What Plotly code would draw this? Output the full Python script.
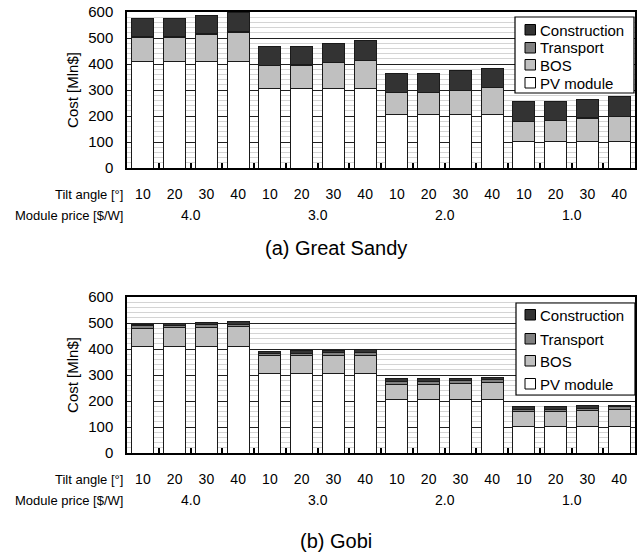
import plotly.graph_objects as go

# ---------------- data ----------------
tilt_angles = ["10", "20", "30", "40"]
module_prices = ["4.0", "3.0", "2.0", "1.0"]
categories = [f"{p}|{t}" for p in module_prices for t in tilt_angles]
tick_text = [t for p in module_prices for t in tilt_angles]

series_names = ["PV module", "BOS", "Transport", "Construction"]
series_colors = ["#ffffff", "#c0c0c0", "#808080", "#333333"]

# (a) Great Sandy
gs_pv = [408, 408, 408, 408, 306, 306, 306, 306, 204, 204, 204, 204, 102, 102, 102, 102]
gs_bos = [95, 95, 107, 115, 89, 90, 99, 108, 85, 85, 95, 105, 77, 80, 90, 97]
gs_transport = [1, 1, 1, 1, 1, 1, 1, 1, 1, 1, 1, 1, 1, 1, 1, 1]
gs_construction = [70, 70, 72, 76, 72, 71, 74, 75, 72, 72, 75, 74, 74, 71, 72, 75]

# (b) Gobi
gobi_pv = [408, 408, 408, 408, 306, 306, 306, 306, 204, 204, 204, 204, 102, 102, 102, 102]
gobi_bos = [72, 74, 76, 78, 68, 68, 69, 70, 61, 61, 64, 68, 56, 56, 60, 64]
gobi_transport = [9, 9, 10, 10, 10, 10, 10, 10, 11, 11, 11, 11, 11, 11, 11, 11]
gobi_construction = [6, 7, 9, 11, 8, 9, 10, 11, 9, 9, 9, 9, 8, 8, 8, 7]

captions = ["(a) Great Sandy", "(b) Gobi"]

# ---------------- figure ----------------
W, H = 637, 553
FONT = "Liberation Sans, Arial, sans-serif"

fig = go.Figure()

panels = [
    dict(data=[gs_pv, gs_bos, gs_transport, gs_construction], xa="x", ya="y"),
    dict(data=[gobi_pv, gobi_bos, gobi_transport, gobi_construction], xa="x2", ya="y2"),
]

for pi, p in enumerate(panels):
    for name, color, vals in zip(series_names, series_colors, p["data"]):
        fig.add_trace(go.Bar(
            x=categories, y=vals, name=name,
            marker=dict(color=color, line=dict(color="#1a1a1a", width=1)),
            xaxis=p["xa"], yaxis=p["ya"], showlegend=False,
        ))

def px_y(y):
    return 1 - y / H

def px_x(x):
    return x / W

# plot area pixel boxes: (top, bottom)
boxes = [(12, 168), (297, 453)]
x0, x1 = 127, 635

axis_common_x = dict(
    type="category", categoryorder="array", categoryarray=categories,
    tickmode="array", tickvals=categories, ticktext=tick_text,
    tickson="boundaries", ticks="inside", ticklen=5, tickwidth=1.5, tickcolor="#000",
    showline=True, linecolor="#000", linewidth=1.5, mirror=True,
    showgrid=False, zeroline=False, automargin=False,
    tickfont=dict(family=FONT, size=14, color="#000"),
    ticklabelstandoff=12,
    range=[-0.5, 15.5],
)
axis_common_y = dict(
    range=[0, 600], dtick=100, tick0=0,
    showline=True, linecolor="#000", linewidth=1.5, mirror=True,
    showgrid=True, gridcolor="#222222", gridwidth=1,
    minor=dict(dtick=20, showgrid=True, gridcolor="#d4d4d4", gridwidth=1),
    zeroline=False, ticks="", automargin=False,
    tickfont=dict(family=FONT, size=15, color="#000"),
    ticklabelstandoff=9,
    title=dict(text="Cost [Mln$]", font=dict(family=FONT, size=15, color="#000"), standoff=6),
)

(t0, b0), (t1, b1) = boxes
fig.update_layout(
    xaxis=dict(axis_common_x, domain=[px_x(x0), px_x(x1)], anchor="y"),
    yaxis=dict(axis_common_y, domain=[px_y(b0), px_y(t0)], anchor="x"),
    xaxis2=dict(axis_common_x, domain=[px_x(x0), px_x(x1)], anchor="y2"),
    yaxis2=dict(axis_common_y, domain=[px_y(b1), px_y(t1)], anchor="x2"),
)

# ---------------- legends (drawn as boxes + real text) ----------------
shapes = []
annotations = []
legend_boxes = [
    dict(box=(515, 17, 634, 93), rows=[30, 48, 65, 83]),
    dict(box=(516, 303, 635, 395), rows=[315, 339, 361, 384]),
]
legend_order = list(zip(series_names, series_colors))[::-1]
for lb in legend_boxes:
    bx0, by0, bx1, by1 = lb["box"]
    shapes.append(dict(type="rect", xref="paper", yref="paper",
                       x0=px_x(bx0), x1=px_x(bx1), y0=px_y(by1), y1=px_y(by0),
                       fillcolor="#ffffff", line=dict(color="#000", width=1.2), layer="above"))
    for (name, color), ry in zip(legend_order, lb["rows"]):
        shapes.append(dict(type="rect", xref="paper", yref="paper",
                           x0=px_x(525), x1=px_x(535.5), y0=px_y(ry + 5), y1=px_y(ry - 5.5),
                           fillcolor=color, line=dict(color="#000", width=1), layer="above"))
        annotations.append(dict(
            text=name, xref="paper", yref="paper", x=px_x(538), y=px_y(ry),
            xanchor="left", yanchor="middle", showarrow=False,
            font=dict(family=FONT, size=15, color="#000")))

for (top, bottom), xa, cap, cap_y in zip(boxes, ["x", "x2"], captions, [248, 541]):
    annotations.append(dict(
        text="Tilt angle [°]", xref="paper", yref="paper", x=px_x(125), y=px_y(bottom + 26),
        xanchor="right", yanchor="middle", showarrow=False,
        font=dict(family=FONT, size=13, color="#000")))
    annotations.append(dict(
        text="Module price [$/W]", xref="paper", yref="paper", x=px_x(125), y=px_y(bottom + 47),
        xanchor="right", yanchor="middle", showarrow=False,
        font=dict(family=FONT, size=13, color="#000")))
    for gi, price in enumerate(module_prices):
        annotations.append(dict(
            text=price, xref=xa, yref="paper", x=gi * len(tilt_angles) + (len(tilt_angles) - 1) / 2,
            y=px_y(bottom + 47), xanchor="center", yanchor="middle", showarrow=False,
            font=dict(family=FONT, size=14, color="#000")))
    annotations.append(dict(
        text=cap, xref="paper", yref="paper", x=px_x(336), y=px_y(cap_y),
        xanchor="center", yanchor="middle", showarrow=False,
        font=dict(family=FONT, size=20, color="#000")))

fig.update_layout(
    shapes=shapes,
    annotations=annotations,
    barmode="stack", bargap=0.31,
    width=W, height=H, autosize=False,
    margin=dict(l=0, r=0, t=0, b=0, autoexpand=False),
    paper_bgcolor="#ffffff", plot_bgcolor="#ffffff",
    font=dict(family=FONT, color="#000"),
    showlegend=False,
)

fig.write_html("out.html", config={"displayModeBar": False},
               post_script="document.body.style.margin='0';")
